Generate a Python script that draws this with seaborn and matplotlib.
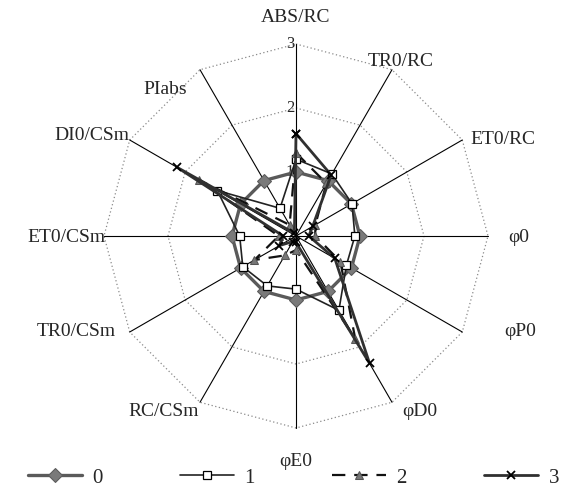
import numpy as np
import pandas as pd
import matplotlib
matplotlib.use("Agg")
import matplotlib.pyplot as plt
import seaborn as sns

# ---- data ----
axis_labels = ['ABS/RC', 'TR0/RC', 'ET0/RC', 'φ0', 'φP0', 'φD0', 'φE0',
               'RC/CSm', 'TR0/CSm', 'ET0/CSm', 'DI0/CSm', 'PIabs']
series_names = ['0', '1', '2', '3']
s0 = [1.00, 1.00, 1.00, 1.00, 1.00, 1.00, 1.00, 1.00, 1.00, 1.00, 1.00, 1.00]
s1 = [1.20, 1.12, 1.01, 0.92, 0.91, 1.34, 0.83, 0.90, 0.96, 0.88, 1.42, 0.50]
s2 = [1.30, 0.95, 0.35, 0.30, 0.80, 1.85, 0.22, 0.35, 0.75, 0.27, 1.75, 0.20]
s3 = [1.60, 1.10, 0.30, 0.20, 0.70, 2.30, 0.10, 0.10, 0.30, 0.20, 2.15, 0.05]
radial_ticks = [1, 2, 3]

# ---- layout (label centres, pixels in the figure) ----
label_px = [(296, 17), (401, 62), (503, 140), (519, 237), (520, 331), (420, 411),
            (296, 461), (164, 411), (76, 332), (66, 237), (92, 135), (165, 90)]

sns.set_theme(style="white")
plt.rcParams['font.family'] = ['Liberation Serif', 'DejaVu Serif']

W, H = 570, 504
cx, cy = 296, 236
sx, sy = 64.0, 64.0

fig = plt.figure(figsize=(W / 100, H / 100), dpi=100)
ax = fig.add_axes([0, 0, 1, 1])
ax.set_xlim(-cx / sx, (W - cx) / sx)
ax.set_ylim(-(H - cy) / sy, cy / sy)
ax.axis('off')

n = len(axis_labels)
theta = np.arange(n) * 2 * np.pi / n  # clockwise from top
rmax = 3

def to_xy(vals):
    v = np.asarray(list(vals) + list(vals[:1]), dtype=float)
    t = np.concatenate([theta, theta[:1]])
    return v * np.sin(t), v * np.cos(t)

# grid polygons
for r in radial_ticks:
    gx, gy = to_xy([r] * n)
    ax.plot(gx, gy, color='#8a8a8a', lw=0.9, ls=(0, (1, 2)), zorder=1)
# spokes
for t in theta:
    ax.plot([0, rmax * np.sin(t)], [0, rmax * np.cos(t)], color='black', lw=0.8, zorder=1)

# radial tick labels
for r in radial_ticks:
    ax.text(-0.03, r, str(r), ha='right', va='center', fontsize=12)

# axis labels
for lab, (px, py) in zip(axis_labels, label_px):
    ax.text((px - cx) / sx, (cy - py) / sy, lab, ha='center', va='center', fontsize=14)

styles = [
    dict(color='#5a5a5a', lw=2.4, marker='D', ms=7, mfc='#7a7a7a', mec='#5a5a5a', ls='-'),
    dict(color='#222222', lw=1.2, marker='s', ms=5.5, mfc='white', mec='black', mew=0.9, ls='-'),
    dict(color='#111111', lw=1.6, marker='^', ms=6, mfc='#777777', mec='#555555', ls=(0, (6, 4))),
    dict(color='#303030', lw=2.0, marker='x', ms=6, mec='black', mew=1.3, ls='-'),
]
for name, vals, st in zip(series_names, [s0, s1, s2, s3], styles):
    x, y = to_xy(vals)
    df = pd.DataFrame({'x': x, 'y': y})
    sns.lineplot(data=df, x='x', y='y', sort=False, estimator=None, ax=ax,
                 label=name, zorder=3, **st)

leg = ax.legend(loc='lower center', bbox_to_anchor=(0.515, -0.005), ncol=4,
                frameon=False, fontsize=15, handlelength=2.6, columnspacing=3.7,
                handletextpad=0.5)

fig.savefig('out.png', dpi=100)
